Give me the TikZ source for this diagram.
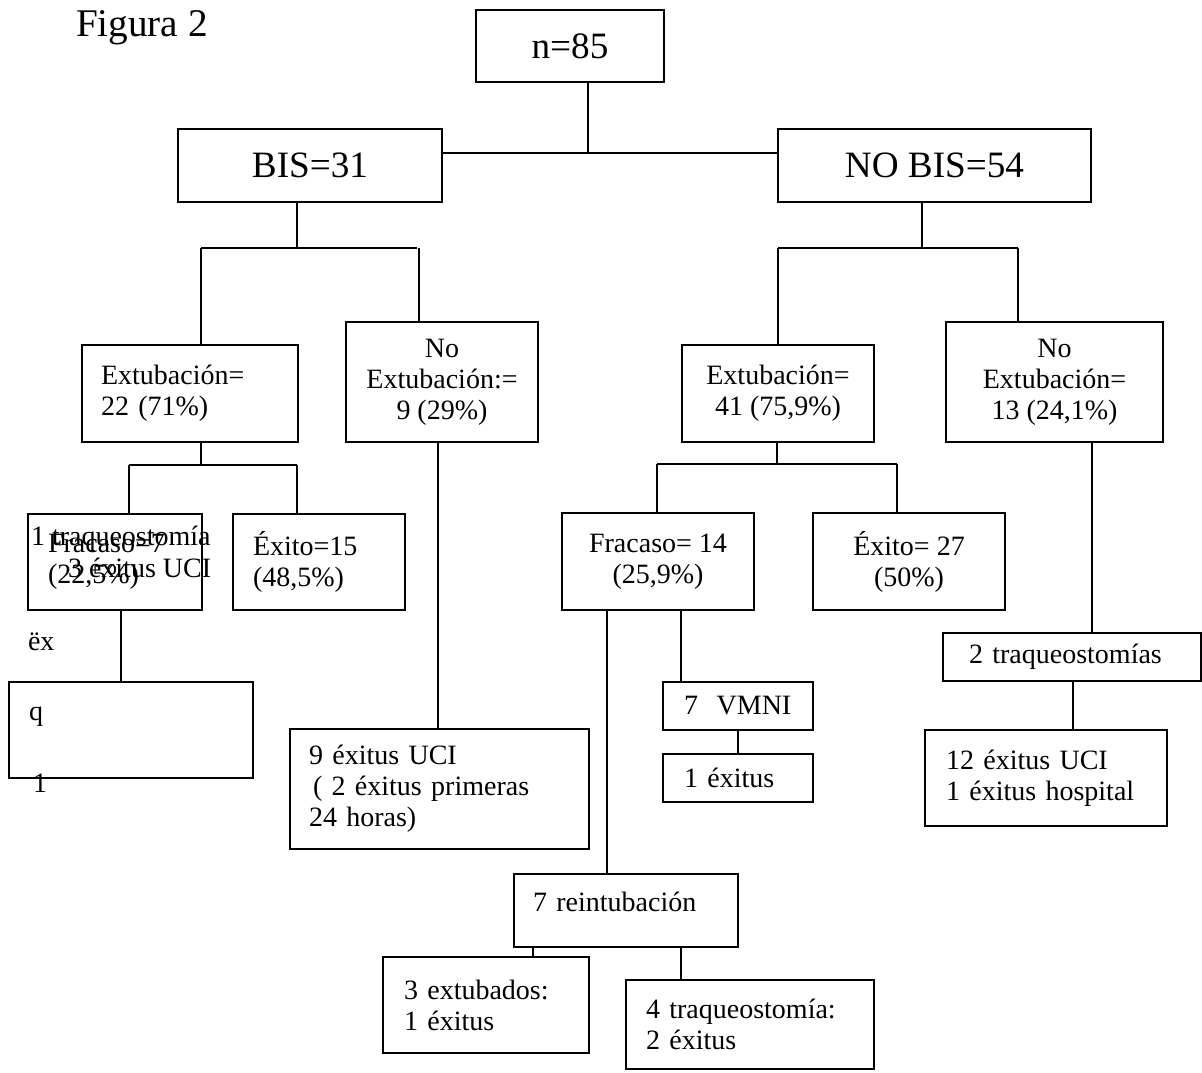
\documentclass[tikz,border=0pt]{standalone}
\usepackage{fontspec}
\setmainfont{Liberation Serif}
\newcommand{\letratitulo}{\fontsize{19.6}{22}\selectfont}
\newcommand{\letragrande}{\fontsize{18.6}{21}\selectfont}
\newcommand{\letrachica}{\fontsize{14}{15.5}\selectfont}
\begin{document}
\begin{tikzpicture}[x=0.5pt,y=-0.5pt,line width=1pt,
    caja/.style={draw,rectangle,anchor=north west,inner sep=0pt,font=\letrachica,align=left},
    cajac/.style={caja,align=center},
    texto/.style={anchor=base west,inner sep=0pt,font=\letrachica}]
  \useasboundingbox (0,0) rectangle (1202,1072);
  % title
  \node[texto,font=\letratitulo] (titulo) at (75,36) {Figura 2};
  % first levels
  \node[cajac,font=\letragrande,minimum width=94pt,minimum height=36pt] (n85) at (475,9) {n=85};
  \node[cajac,font=\letragrande,minimum width=132pt,minimum height=36.5pt] (bis) at (177,128) {BIS=31};
  \node[cajac,font=\letragrande,minimum width=156.5pt,minimum height=36.5pt] (nobis) at (777,128) {NO BIS=54};
  \node[caja,text width=89pt,minimum width=108pt,minimum height=48.5pt] (ext22) at (81,344) {Extubación=\\22 (71\%)};
  \node[cajac,minimum width=96pt,minimum height=60pt] (noext9) at (345,321) {No\\Extubación:=\\9 (29\%)};
  \node[cajac,minimum width=96pt,minimum height=48.5pt] (ext41) at (681,344) {Extubación=\\41 (75,9\%)};
  \node[cajac,minimum width=108.5pt,minimum height=60pt] (noext13) at (945,321) {No\\Extubación=\\13 (24,1\%)};
  % outcomes
  \node[caja,text width=67pt,minimum width=87pt,minimum height=48pt] (fra7) at (27,513) {Fracaso=7\\(22,5\%)};
  \node[caja,text width=66pt,minimum width=86pt,minimum height=48pt] (exi15) at (232,513) {Éxito=15\\(48,5\%)};
  \node[cajac,minimum width=96pt,minimum height=48.5pt] (fra14) at (561,512) {Fracaso= 14\\(25,9\%)};
  \node[cajac,minimum width=96pt,minimum height=48.5pt] (exi27) at (812,512) {Éxito= 27\\(50\%)};
  \node[caja,minimum width=122pt,minimum height=48pt] (qbox) at (8,681) {};
  \node[caja,text width=130.5pt,minimum width=149.5pt,minimum height=60pt] (uci9) at (289,728) {9 éxitus UCI\\\hspace*{2pt}( 2 éxitus primeras\\24 horas)};
  \node[caja,text width=54pt,minimum width=75pt,minimum height=24pt] (vmni) at (662,681) {7\ \ VMNI};
  \node[caja,text width=54pt,minimum width=75pt,minimum height=24pt] (exi1) at (662,753) {1 éxitus};
  \node[caja,text width=103pt,minimum width=129pt,minimum height=24pt] (traq2) at (942,632) {2 traqueostomías};
  \node[caja,text width=100pt,minimum width=121pt,minimum height=48pt] (uci12) at (924,729) {12 éxitus UCI\\1 éxitus hospital};
  \node[caja,text width=93pt,text depth=8.7pt,minimum width=112pt,minimum height=36.5pt] (reint) at (513,873) {7 reintubación};
  \node[caja,text width=82pt,minimum width=103pt,minimum height=48pt] (ext3) at (382,956) {3 extubados:\\1 éxitus};
  \node[caja,text width=104pt,minimum width=124pt,minimum height=44.5pt] (traq4) at (625,979) {4 traqueostomía:\\2 éxitus};
  % stray texts
  \node[texto] (sobre1) at (30,545) {1 traqueostomía};
  \node[texto] (sobre2) at (67,577) {3 éxitus UCI};
  \node[texto] (ex) at (27,650) {ëx};
  \node[texto] (letraq) at (28,720) {q};
  \node[texto] (uno) at (32,792) {1};
  % connectors top
  \coordinate (c0) at (588,153);
  \draw (c0 |- n85.south) -- (c0);
  \draw (bis.east |- c0) -- (nobis.west |- c0);
  % bis branches
  \coordinate (c1) at (297,248);
  \coordinate (c1a) at (201,248);
  \coordinate (c1b) at (419,248);
  \draw (c1 |- bis.south) -- (c1);
  \draw (c1a) -- ([xshift=-1pt]c1b);
  \draw (c1a) -- (c1a |- ext22.north);
  \draw (c1b) -- (c1b |- noext9.north);
  % no bis branches
  \coordinate (c2) at (922,248);
  \coordinate (c2a) at (778,248);
  \coordinate (c2b) at (1018,248);
  \draw (c2 |- nobis.south) -- (c2);
  \draw (c2a) -- (c2b);
  \draw (c2a) -- (c2a |- ext41.north);
  \draw (c2b) -- (c2b |- noext13.north);
  % extubacion bis
  \coordinate (c3) at (201,465);
  \coordinate (c3a) at (129,465);
  \coordinate (c3b) at (297,465);
  \draw (c3 |- ext22.south) -- (c3);
  \draw (c3a) -- (c3b);
  \draw (c3a) -- (c3a |- fra7.north);
  \draw (c3b) -- (c3b |- exi15.north);
  \coordinate (c4) at (121,609);
  \draw (c4 |- fra7.south) -- (c4 |- qbox.north);
  \coordinate (c5) at (438,441);
  \draw (c5 |- noext9.south) -- (c5 |- uci9.north);
  % extubacion no bis
  \coordinate (c6) at (777,464);
  \coordinate (c6a) at (657,464);
  \coordinate (c6b) at (897,464);
  \draw (c6 |- ext41.south) -- (c6);
  \draw (c6a) -- (c6b);
  \draw (c6a) -- (c6a |- fra14.north);
  \draw (c6b) -- (c6b |- exi27.north);
  \coordinate (c7) at (607,609);
  \coordinate (c8) at (681,609);
  \draw (c7 |- fra14.south) -- (c7 |- reint.north);
  \draw (c8 |- fra14.south) -- (c8 |- vmni.north);
  \draw (vmni.south) -- (exi1.north);
  \coordinate (c9) at (1092,441);
  \draw (c9 |- noext13.south) -- (c9 |- traq2.north);
  \coordinate (c10) at (1073,680);
  \draw (c10 |- traq2.south) -- (c10 |- uci12.north);
  % reintubacion
  \coordinate (c11) at (533,946);
  \coordinate (c12) at (681,946);
  \draw (c11 |- reint.south) -- (c11 |- ext3.north);
  \draw (c12 |- reint.south) -- (c12 |- traq4.north);
\end{tikzpicture}
\end{document}
